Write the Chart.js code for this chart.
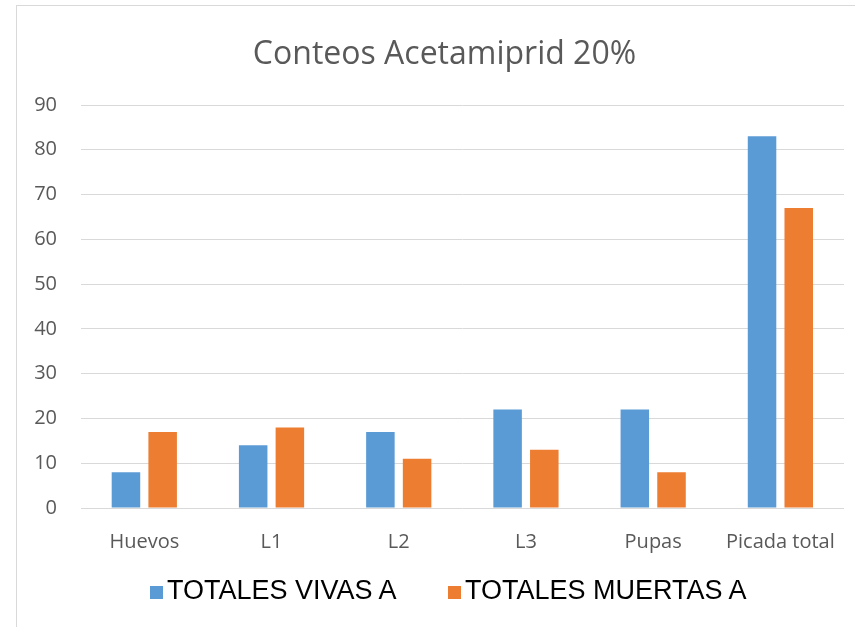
<!DOCTYPE html>
<html>
<head>
<meta charset="utf-8">
<script src="https://cdn.jsdelivr.net/npm/chart.js@4"></script>
<style>
  html, body { margin: 0; padding: 0; background: #fff; overflow: hidden; }
  #frame {
    position: absolute; left: 16px; top: 5px; width: 900px; height: 700px;
    border-left: 1px solid #d9d9d9; border-top: 1px solid #d9d9d9;
  }
  #chart { position: absolute; left: 0; top: 0; }
  #legend {
    position: absolute; top: 577px; left: 0; width: 855px; height: 27px;
    font-family: "Liberation Sans", Arial, sans-serif; font-size: 27px; line-height: 27px; color: #000;
  }
  .item { position: absolute; top: 0; white-space: nowrap; }
  .box { position: absolute; top: 9px; width: 13px; height: 13px; }
  .lbl { position: absolute; left: 17px; top: 0; }
</style>
</head>
<body>
<div id="frame">
  <canvas id="chart" width="855" height="621"></canvas>
</div>
<div id="legend"></div>
<script>
// --- datos ---
const categories = ['Huevos', 'L1', 'L2', 'L3', 'Pupas', 'Picada total'];
const vivas = [8, 14, 17, 22, 22, 83];
const muertas = [17, 18, 11, 13, 8, 67];
const seriesNames = ['TOTALES VIVAS A', 'TOTALES MUERTAS A'];
const yTicks = { min: 0, max: 90, step: 10 };

const BLUE = '#5b9bd5';
const ORANGE = '#ed7d31';
const GREY_TXT = '#595959';
const GRID = '#d9d9d9';

const chart = new Chart(document.getElementById('chart'), {
  type: 'bar',
  data: {
    labels: categories,
    datasets: [
      { label: seriesNames[0], data: vivas, backgroundColor: BLUE },
      { label: seriesNames[1], data: muertas, backgroundColor: ORANGE }
    ]
  },
  options: {
    responsive: false,
    animation: false,
    devicePixelRatio: 1,
    layout: { padding: { left: 0, right: 0, top: 0, bottom: 51 } },
    datasets: { bar: { categoryPercentage: 0.577, barPercentage: 0.777 } },
    plugins: {
      legend: { display: false },
      tooltip: { enabled: false },
      title: {
        display: true,
        text: 'Conteos Acetamiprid 20%',
        color: GREY_TXT,
        font: { family: '"Open Sans", sans-serif', size: 32, weight: 'normal' },
        padding: { top: 30, bottom: 30.6 }
      }
    },
    scales: {
      x: {
        grid: { display: false, drawTicks: false },
        border: { display: false },
        ticks: { color: GREY_TXT, padding: 22, font: { family: '"Open Sans", sans-serif', size: 20 } }
      },
      y: {
        min: yTicks.min,
        max: yTicks.max,
        afterFit: s => { s.width = 63.7; },
        grid: { color: GRID, lineWidth: 1, drawTicks: false },
        border: { display: false },
        ticks: { stepSize: yTicks.step, color: GREY_TXT, padding: 23.7, font: { family: '"Open Sans", sans-serif', size: 20 } }
      },
      // eje vacío a la derecha, sólo para dejar margen sin descentrar el título
      yRight: {
        position: 'right',
        afterFit: s => { s.width = 28; },
        grid: { display: false, drawTicks: false },
        border: { display: false },
        ticks: { display: false }
      }
    }
  }
});

// leyenda en HTML, desde los datasets
const legendEl = document.getElementById('legend');
const legendX = [150, 448];
chart.data.datasets.forEach((ds, i) => {
  const item = document.createElement('div');
  item.className = 'item';
  item.style.left = legendX[i] + 'px';
  item.innerHTML = '<span class="box" style="background:' + ds.backgroundColor + '"></span><span class="lbl"></span>';
  item.querySelector('.lbl').textContent = ds.label;
  legendEl.appendChild(item);
});
</script>
</body>
</html>
